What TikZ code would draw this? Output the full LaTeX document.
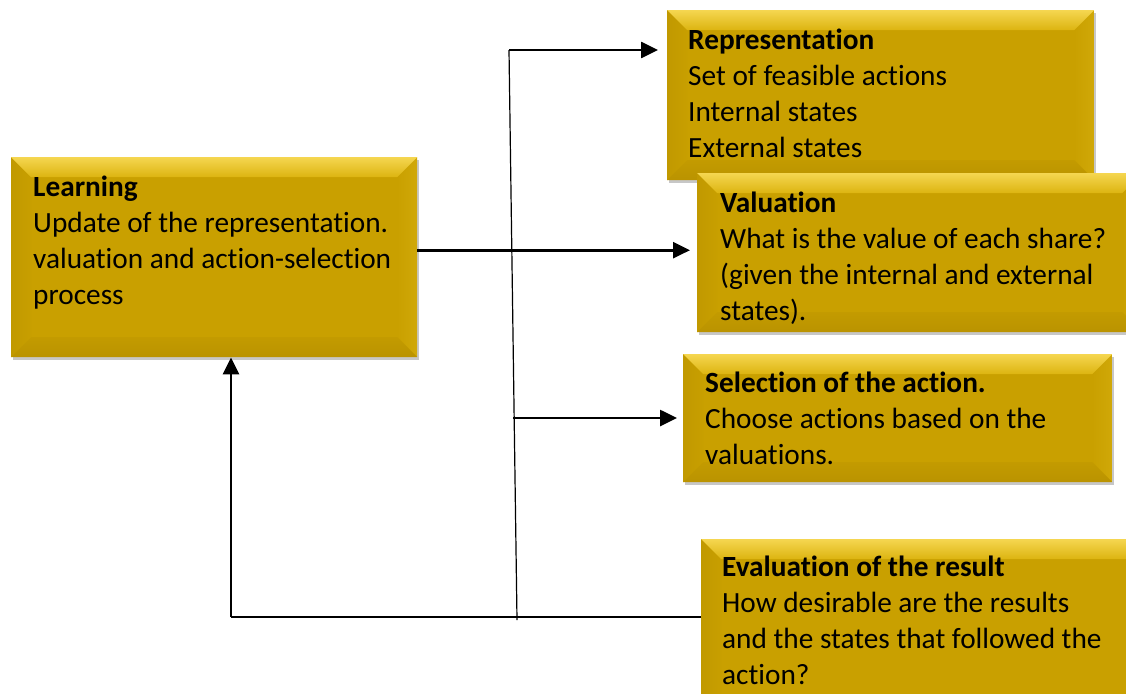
\documentclass[tikz,border=0pt]{standalone}
\usepackage{fontspec}
\setmainfont{Carlito}[RawFeature={-liga;-clig;-dlig}]
\usetikzlibrary{arrows.meta,shadows,calc}
\definecolor{face}{RGB}{201,160,0}
\definecolor{bevtopA}{RGB}{245,214,80}
\definecolor{bevtopB}{RGB}{220,180,16}
\definecolor{bevleft}{RGB}{193,153,0}
\definecolor{bevright}{RGB}{208,168,8}
\definecolor{bevbot}{RGB}{186,147,0}
\tikzset{
  goldbox/.style={fill=face, draw=none, inner sep=0pt, anchor=north west,
    drop shadow={shadow xshift=2pt, shadow yshift=-3pt, opacity=0.22, fill=black},
    path picture={
      \coordinate (NW) at (path picture bounding box.north west);
      \coordinate (NE) at (path picture bounding box.north east);
      \coordinate (SW) at (path picture bounding box.south west);
      \coordinate (SE) at (path picture bounding box.south east);
      \shade[left color=bevleft, right color=face!85!bevleft] (NW) -- ([shift={(20pt,-20pt)}]NW) -- ([shift={(20pt,20pt)}]SW) -- (SW) -- cycle;
      \shade[left color=face, right color=bevright] (NE) -- ([shift={(-20pt,-20pt)}]NE) -- ([shift={(-20pt,20pt)}]SE) -- (SE) -- cycle;
      \shade[top color=face!60!bevbot, bottom color=bevbot] (SW) -- ([shift={(20pt,20pt)}]SW) -- ([shift={(-20pt,20pt)}]SE) -- (SE) -- cycle;
      \shade[top color=bevtopA, bottom color=bevtopB] (NW) -- (NE) -- ([shift={(-20pt,-20pt)}]NE) -- ([shift={(20pt,-20pt)}]NW) -- cycle;
    }},
  txt/.style={anchor=base west, inner sep=0pt, font=\fontsize{29.3}{36}\selectfont},
  arr/.style={line width=2.6pt, -{Triangle[length=17pt,width=16pt]}},
  thinln/.style={line width=1.2pt}
}
\newcommand{\boxtext}[2]{\parbox[t]{#1}{\raggedright #2}}
\begin{document}
\begin{tikzpicture}[x=1pt,y=-1pt]
\useasboundingbox (0,0) rectangle (1126,693);
\clip (0,0) rectangle (1126,693);
% boxes
\node[goldbox, minimum width=406pt, minimum height=200pt] (learn) at (11,157) {};
\node[goldbox, minimum width=427pt, minimum height=170pt] (rep) at (667,10) {};
\node[goldbox, minimum width=445pt, minimum height=159pt] (val) at (697,173) {};
\node[goldbox, minimum width=429pt, minimum height=128pt] (sel) at (683,354) {};
\node[goldbox, minimum width=445pt, minimum height=175pt] (eval) at (701,539) {};
% texts
\node[txt] (learnT) at (33,196) {\boxtext{380pt}{\textbf{Learning}\\Update of the representation.\\valuation and action-selection\\process}};
\node[txt] (repT) at (688,49) {\boxtext{400pt}{\textbf{Representation}\\Set of feasible actions\\Internal states\\External states}};
\node[txt] (valT) at (720,212) {\boxtext{400pt}{\textbf{Valuation}\\What is the value of each share?\\(given the internal and external\\states).}};
\node[txt] (selT) at (705,392) {\boxtext{400pt}{\textbf{Selection of the action.}\\Choose actions based on the\\valuations.}};
\node[txt] (evalT) at (722,576) {\boxtext{400pt}{\textbf{Evaluation of the result}\\How desirable are the results\\and the states that followed the\\action?}};
% connectors
\coordinate (vt) at (509,50);
\coordinate (vb) at (517,620);
\coordinate (vm) at (513,418);
\coordinate (l1) at ([yshift=7pt]learn.east);
\coordinate (e1) at (701,617);
\coordinate (c1) at (231,617);
\draw[thinln] (vt) -- (vb);
\draw[arr, shorten >=9pt] (vt) -- (vt -| rep.west);
\draw[arr, shorten >=7pt] (l1) -- (l1 -| val.west);
\draw[arr, shorten >=6pt] (vm) -- (vm -| sel.west);
\draw[thinln] (e1) -- (c1);
\draw[arr] (c1) -- (c1 |- learn.south);
\end{tikzpicture}
\end{document}
